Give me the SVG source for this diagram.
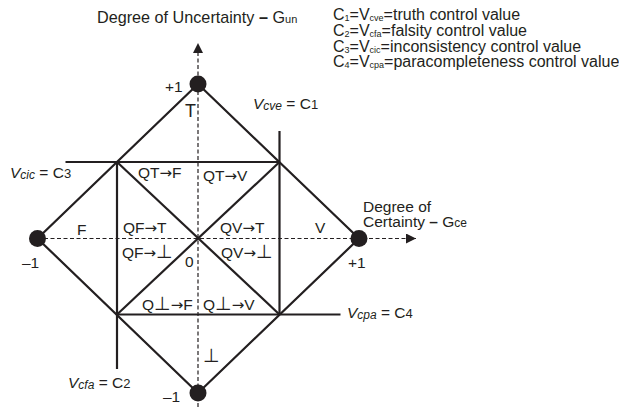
<svg xmlns="http://www.w3.org/2000/svg" width="619" height="407" viewBox="0 0 619 407">
<style>
text{font-family:"Liberation Sans",Arial,"DejaVu Sans",sans-serif;fill:#231f20}
.t{font-size:16.2px}
.lg{font-size:16px}
.q{font-size:15.5px}
.m{font-size:15.5px}
.big{font-size:18px}
.sub{font-size:9px}
.ar{font-family:"DejaVu Sans",sans-serif;font-size:15px}
.bt{font-family:"DejaVu Sans",sans-serif;font-size:19px}
.solid{stroke:#231f20;stroke-width:2.2;fill:none;stroke-linecap:butt}
.dash{stroke:#231f20;stroke-width:1.2;stroke-dasharray:4,2.5;fill:none}
.dot{fill:#231f20}
</style>
<defs>
<marker id="ah" markerWidth="10" markerHeight="10" refX="10" refY="5" orient="auto" markerUnits="userSpaceOnUse" viewBox="0 0 10 10">
<path d="M0,0 L10,5 L0,10 Z" fill="#231f20"/>
</marker>
</defs>
<g id="axes">
<line class="dash" x1="198" y1="407" x2="198" y2="43" marker-end="url(#ah)"/>
<line class="dash" x1="37.5" y1="238.5" x2="416" y2="238.5" marker-end="url(#ah)"/>
</g>
<g id="connectors">
<polygon class="solid" points="198,84 359,238.5 198,393 37.5,238.5"/>
<line class="solid" x1="65.5" y1="162" x2="279.5" y2="162"/>
<line class="solid" x1="279.5" y1="131" x2="279.5" y2="314.5"/>
<line class="solid" x1="117" y1="162" x2="117" y2="369"/>
<line class="solid" x1="117" y1="314.5" x2="340.5" y2="314.5"/>
<line class="solid" x1="117" y1="162" x2="279.5" y2="314.5"/>
<line class="solid" x1="279.5" y1="162" x2="117" y2="314.5"/>
</g>
<g id="nodes">
<circle id="n-top" class="dot" cx="198" cy="84" r="8.5"/>
<circle id="n-bottom" class="dot" cx="198" cy="393" r="8.5"/>
<circle id="n-left" class="dot" cx="37.5" cy="238.5" r="8.5"/>
<circle id="n-right" class="dot" cx="359" cy="238.5" r="8.5"/>
</g>
<g id="labels">
<text class="t" x="97" y="23">Degree of Uncertainty <tspan font-weight="bold">–</tspan> G<tspan font-size="11px">un</tspan></text>
<text class="lg" x="333" y="20">C<tspan class="sub" dy="1">1</tspan><tspan dy="-1">=V</tspan><tspan class="sub" font-size="8px" dy="1">cve</tspan><tspan dy="-1">=truth control value</tspan></text>
<text class="lg" x="333" y="36">C<tspan class="sub" dy="1">2</tspan><tspan dy="-1">=V</tspan><tspan class="sub" font-size="8px" dy="1">cfa</tspan><tspan dy="-1">=falsity control value</tspan></text>
<text class="lg" x="333" y="51.5">C<tspan class="sub" dy="1">3</tspan><tspan dy="-1">=V</tspan><tspan class="sub" font-size="8px" dy="1">cic</tspan><tspan dy="-1">=inconsistency control value</tspan></text>
<text class="lg" x="333" y="67">C<tspan class="sub" dy="1">4</tspan><tspan dy="-1">=V</tspan><tspan class="sub" font-size="8px" dy="1">cpa</tspan><tspan dy="-1">=paracompleteness control value</tspan></text>
<text class="q" x="165" y="92">+1</text>
<text class="big" x="185" y="117">T</text>
<text class="m" x="253" y="109"><tspan font-style="italic">V</tspan><tspan font-style="italic" font-size="12px" dy="1">cve</tspan><tspan dy="-1"> = C</tspan><tspan font-size="13px">1</tspan></text>
<text class="m" x="10" y="178"><tspan font-style="italic">V</tspan><tspan font-style="italic" font-size="12px" dy="1">cic</tspan><tspan dy="-1"> = C</tspan><tspan font-size="13px">3</tspan></text>
<text class="q" x="138" y="178">QT<tspan class="ar">→</tspan>F</text>
<text class="q" x="203" y="181">QT<tspan class="ar">→</tspan>V</text>
<text class="q" x="77" y="235">F</text>
<text class="q" x="123" y="233">QF<tspan class="ar">→</tspan>T</text>
<text class="q" x="220" y="233">QV<tspan class="ar">→</tspan>T</text>
<text class="q" x="315" y="233">V</text>
<text class="q" x="122" y="258">QF<tspan class="ar">→</tspan><tspan class="bt">⊥</tspan></text>
<text class="q" x="221" y="258">QV<tspan class="ar">→</tspan><tspan class="bt">⊥</tspan></text>
<text class="q" x="185" y="267">0</text>
<text class="q" x="22" y="268">–1</text>
<text class="q" x="348" y="268">+1</text>
<text class="m" x="363" y="211.5">Degree of</text>
<text class="m" x="363" y="227">Certainty <tspan font-weight="bold">–</tspan> G<tspan font-size="12px">ce</tspan></text>
<text class="q" x="142" y="310">Q<tspan class="bt">⊥</tspan><tspan class="ar">→</tspan>F</text>
<text class="q" x="203" y="310">Q<tspan class="bt">⊥</tspan><tspan class="ar">→</tspan>V</text>
<text class="bt" x="203" y="362" font-size="30px">⊥</text>
<text class="m" x="347" y="318"><tspan font-style="italic">V</tspan><tspan font-style="italic" font-size="12px" dy="1">cpa</tspan><tspan dy="-1"> = C</tspan><tspan font-size="13px">4</tspan></text>
<text class="m" x="68" y="388"><tspan font-style="italic">V</tspan><tspan font-style="italic" font-size="12px" dy="1">cfa</tspan><tspan dy="-1"> = C</tspan><tspan font-size="13px">2</tspan></text>
<text class="q" x="163" y="402">–1</text>
</g>
</svg>
